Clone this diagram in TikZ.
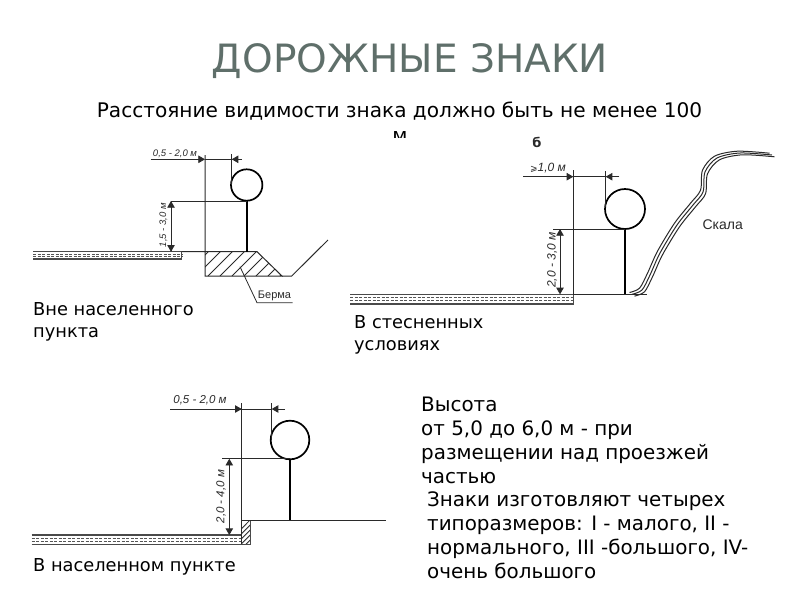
\documentclass[tikz,border=0pt]{standalone}
\usepackage{fontspec}
\setmainfont{DejaVu Sans}
\newfontfamily\dimfont{Liberation Sans}
\usetikzlibrary{arrows, calc}
\definecolor{titlegray}{HTML}{5F6F6A}
\definecolor{inkgray}{HTML}{2A2A2A}
\tikzset{
	thinline/.style={draw=inkgray, line width=0.8pt},
	dimline/.style={thinline, -triangle 60},
	roadline/.style={draw=inkgray!85, line width=1.3pt},
	roaddash/.style={draw=inkgray!80, line width=0.8pt, dash pattern=on 3pt off 1.5pt},
	signdisc/.style={draw=black, line width=1.7pt},
	signpole/.style={draw=black, line width=2pt},
	bodytext/.style={align=left, anchor=north west, inner sep=0pt, font=\fontsize{17.8}{22.5}\selectfont, text=black},
	bigtext/.style={align=left, anchor=north west, inner sep=0pt, font=\fontsize{19.9}{24}\selectfont, text=black},
	dimtext/.style={inner sep=0pt, text=inkgray, font=\dimfont\itshape\fontsize{#1}{#1}\selectfont},
	dimtext/.default=12
}
\begin{document}
\begin{tikzpicture}[x=1pt, y=-1pt]
	\useasboundingbox (0,0) rectangle (800,600);
	% texts
	\node (T) [text=titlegray, font=\fontsize{39}{39}\selectfont] at (410,61.5) {ДОРОЖНЫЕ ЗНАКИ};
	\node (U) [font=\fontsize{20.1}{24}\selectfont] at (399.5,111) {Расстояние видимости знака должно быть не менее 100};
	\begin{scope}
		\clip (380,120) rectangle (420,137.5);
		\node (V) [font=\fontsize{20.1}{24}\selectfont] at (400,137) {м};
	\end{scope}
	\node (W1) [bodytext] at (33,302) {Вне населенного\\пункта};
	\node (W2) [bodytext] at (354,315) {В стесненных\\условиях};
	\node (W3) [bodytext] at (33,558) {В населенном пункте};
	\node (W4) [bigtext] at (421,397) {Высота\\от 5,0 до 6,0 м - при\\размещении над проезжей\\частью};
	\node (W5) [bigtext] at (427,492) {Знаки изготовляют четырех\\типоразмеров: I - малого, II -\\нормального, III -большого, IV-\\очень большого};
	% first sign
	\coordinate (A) at (205,251.7);
	\coordinate (B) at (246.7,185);
	\coordinate (C) at (246.7,201);
	\coordinate (D) at (246.7,251.7);
	\begin{scope}
		\clip (205,251.7) -- (257,251.7) -- (282,276) -- (205,276) -- cycle;
		\foreach \i in {160,172,...,280}
			\draw [thinline] (\i,276) -- ({\i+25},251);
	\end{scope}
	\draw [roadline] (33,251.7) -- (181.7,251.7) -- (181.7,259) -- (33,259);
	\foreach \i in {254.2,256.6}
		\draw [roaddash] (33,\i) -- (181.7,\i);
	\draw [thinline, line width=1pt] (181.7,251.7) -- (257,251.7) -- (282,276) -- (205,276) -- (205,155);
	\draw [thinline, line width=1pt] (282,276) -- (291.7,276) -- (328,240);
	\draw [signdisc] (B) circle [radius=15.7pt];
	\draw [signpole] (C) -- (D);
	\draw [thinline] (170.7,201) -- (C);
	\draw [thinline] (231.7,154) -- (231.7,185);
	\draw [dimline] (150.7,159.3) -- (205,159.3);
	\draw [dimline] (242,159.3) -- (231.7,159.3);
	\draw [thinline] (205,159.3) -- (231.7,159.3);
	\draw [dimline, triangle 60-triangle 60] (171,201) -- (171,251.7);
	\node (L1) [dimtext=9.5] at (175,154) {0,5 - 2,0 м};
	\node (L2) [dimtext=9.5, rotate=90] at (163.5,225) {1,5 - 3,0 м};
	\node (L3) [inner sep=0pt, text=inkgray, font=\dimfont\fontsize{11}{11}\selectfont] at (274.5,295.7) {Берма};
	\draw [thinline] (292.7,302.7) -- (257,302.7) -- (240,266.7);
	% second sign
	\coordinate (E) at (625,209);
	\coordinate (F) at (625,229);
	\coordinate (G) at (625,294.3);
	\draw [roadline] (350,294.3) -- (573.3,294.3) -- (573.3,304) -- (350,304);
	\foreach \i in {297.4,300.4}
		\draw [roaddash] (350,\i) -- (573.3,\i);
	\draw [thinline, line width=1pt] (573.3,294.3) -- (646.7,294.3);
	\draw [thinline, line width=1pt] (573.3,294.3) -- (573.3,170);
	\draw [signdisc] (E) circle [radius=20pt];
	\draw [signpole] (F) -- (G);
	\draw [thinline] (553.3,229) -- (F);
	\draw [thinline] (605.7,171) -- (605.7,206.7);
	\draw [dimline] (523.3,176.7) -- (573.3,176.7);
	\draw [dimline] (619.3,176.7) -- (605.7,176.7);
	\draw [thinline] (573.3,176.7) -- (605.7,176.7);
	\draw [dimline, triangle 60-triangle 60] (560,229) -- (560,294.3);
	\node (L4) [dimtext=12] at (548,168) {\fontspec{DejaVu Sans Oblique}\fontsize{9}{9}\selectfont ⩾\dimfont\itshape\fontsize{12}{12}\selectfont 1,0 м};
	\node (L5) [dimtext=12, rotate=90] at (552.3,260) {2,0 - 3,0 м};
	\node (L6) [inner sep=0pt, text=inkgray, font=\dimfont\fontsize{14}{14}\selectfont] at (722.7,224.3) {Скала};
	\node (L7) [inner sep=0pt, text=inkgray, font=\bfseries\fontsize{13}{13}\selectfont] at (537,142.5) {б};
	% rock face
	\foreach \dx/\dy in {-2.5/-1.8, 0/0, 2.5/1.8}
		\draw [thinline, line width=1pt, shift={(\dx,\dy)}, smooth] plot coordinates {(632,294.3) (642,290) (650,275) (660,253) (677,225) (693,205) (703,192) (705,172) (717,158) (740,153) (772,155)};
	% third sign
	\coordinate (H) at (290,440);
	\coordinate (I) at (290,458.8);
	\coordinate (J) at (290,520);
	\begin{scope}
		\clip (241.7,520) rectangle (250.7,544.3);
		\foreach \i in {226,231,...,256}
			\draw [thinline] (\i,544.3) -- ({\i+10},534.3) -- ({\i+34},510);
	\end{scope}
	\draw [roadline] (31.7,535) -- (241.7,535);
	\draw [roadline] (31.7,544.3) -- (250.7,544.3) -- (250.7,520);
	\foreach \i in {538.2,541.2}
		\draw [roaddash] (31.7,\i) -- (241.7,\i);
	\draw [thinline, line width=1pt] (241.7,544.3) -- (241.7,403);
	\draw [thinline, line width=1pt] (241.7,520) -- (386,520);
	\draw [signdisc] (H) circle [radius=19.3pt];
	\draw [signpole] (I) -- (J);
	\draw [thinline] (222.3,458.8) -- (I);
	\draw [thinline] (271.7,403) -- (271.7,440);
	\draw [dimline] (170,409) -- (241.7,409);
	\draw [dimline] (285,409) -- (271.7,409);
	\draw [thinline] (241.7,409) -- (271.7,409);
	\draw [dimline, triangle 60-triangle 60] (229.3,458.8) -- (229.3,535);
	\node (L8) [dimtext=11.5] at (200,400) {0,5 - 2,0 м};
	\node (L9) [dimtext=11.5, rotate=90] at (221,496.7) {2,0 - 4,0 м};
\end{tikzpicture}
\end{document}
